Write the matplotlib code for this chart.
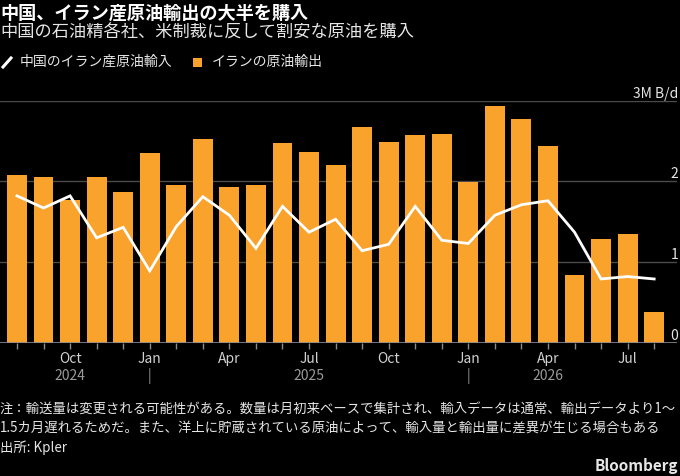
import matplotlib
matplotlib.use("Agg")
import matplotlib.pyplot as plt
from matplotlib.lines import Line2D
from matplotlib.patches import Rectangle
import matplotlib.transforms as mtransforms

# ---------------------------------------------------------------- data
months = ["2024-08", "2024-09", "2024-10", "2024-11", "2024-12",
          "2025-01", "2025-02", "2025-03", "2025-04", "2025-05", "2025-06",
          "2025-07", "2025-08", "2025-09", "2025-10", "2025-11", "2025-12",
          "2026-01", "2026-02", "2026-03", "2026-04", "2026-05", "2026-06",
          "2026-07", "2026-08"]
iran_exports = [2.08, 2.06, 1.77, 2.05, 1.87, 2.35, 1.95, 2.53, 1.93, 1.95,
                2.47, 2.37, 2.20, 2.67, 2.49, 2.58, 2.59, 1.99, 2.93, 2.77,
                2.44, 0.84, 1.29, 1.35, 0.38]
china_imports = [1.82, 1.67, 1.82, 1.30, 1.43, 0.89, 1.44, 1.81, 1.58, 1.17,
                 1.69, 1.37, 1.53, 1.14, 1.22, 1.69, 1.27, 1.23, 1.58, 1.71,
                 1.76, 1.37, 0.79, 0.82, 0.79]
month_names = {"01": "Jan", "04": "Apr", "07": "Jul", "10": "Oct"}
year_marks = {"2024-10": "2024", "2025-01": "|", "2025-07": "2025",
              "2026-01": "|", "2026-04": "2026"}
y_ticks = [0, 1, 2, 3]
y_labels = ["0", "1", "2", "3M B/d"]

# ---------------------------------------------------------------- style
plt.rcParams["font.family"] = ["Noto Sans CJK JP", "DejaVu Sans"]
BG = "#000000"
ORANGE = "#F9A22C"
GRID = "#4a4a4a"
TXT = "#e6e6e6"
GREY = "#9a9a9a"

fig = plt.figure(figsize=(6.8, 4.76), dpi=100, facecolor=BG)
ax = fig.add_axes([0.0, 1 - 342.7 / 476, 677 / 680, 242 / 476], facecolor=BG)

x = list(range(len(months)))
ax.bar(x, iran_exports, width=0.75, color=ORANGE, zorder=2)
ax.plot(x, china_imports, color="white", lw=2.0, zorder=3,
        solid_joinstyle="miter")

ax.set_xlim(-0.64, 24.86)
ax.set_ylim(0, 3)
for s in ax.spines.values():
    s.set_visible(False)
for v in y_ticks[1:]:
    ax.axhline(v, color=GRID, lw=1.0, zorder=1)
ax.axhline(0, color="#8a8a8a", lw=1.2, zorder=4)

# y labels sit above the gridlines at the right edge
ytr = mtransforms.blended_transform_factory(fig.transFigure, ax.transData)
for v, lab in zip(y_ticks, y_labels):
    ax.text(678 / 680, v, lab, transform=ytr, ha="right", va="bottom",
            fontsize=10, color=TXT)
ax.set_yticks([])

ax.set_xticks(x)
ax.set_xticklabels([month_names.get(m[5:], "") for m in months],
                   fontsize=10, color="#d0d0d0")
ax.tick_params(axis="x", length=4, width=1, color="#8a8a8a", pad=3)

xtr = mtransforms.blended_transform_factory(ax.transData, fig.transFigure)
for i, m in enumerate(months):
    if m in year_marks:
        ax.text(i, 1 - 376 / 476, year_marks[m], transform=xtr, ha="center",
                va="center", fontsize=10, color=GREY)

# ---------------------------------------------------------------- header
fig.text(0.0, 1 - 13 / 476, "中国、イラン産原油輸出の大半を購入", ha="left",
         va="center", fontsize=13.1, fontweight="bold", color="white")
fig.text(0.0, 1 - 33 / 476, "中国の石油精各社、米制裁に反して割安な原油を購入",
         ha="left", va="center", fontsize=12.4, color=TXT)

ly = 1 - 62 / 476
fig.add_artist(Line2D([3 / 680, 11 / 680], [1 - 67 / 476, 1 - 58 / 476],
                      transform=fig.transFigure, color="white", lw=2.2))
fig.text(20 / 680, ly, "中国のイラン産原油輸入", ha="left", va="center",
         fontsize=10, color=TXT)
fig.add_artist(Rectangle((193 / 680, 1 - 67 / 476), 9 / 680, 9 / 476,
                         transform=fig.transFigure, color=ORANGE, lw=0))
fig.text(212 / 680, ly, "イランの原油輸出", ha="left", va="center",
         fontsize=10, color=TXT)

# ---------------------------------------------------------------- footer
FS = 9.6
fig.text(0.0, 1 - 409 / 476,
         "注：輸送量は変更される可能性がある。数量は月初来ベースで集計され、輸入データは通常、輸出データより1～",
         ha="left", va="center", fontsize=FS, color=TXT)
fig.text(0.0, 1 - 428 / 476,
         "1.5カ月遅れるためだ。また、洋上に貯蔵されている原油によって、輸入量と輸出量に差異が生じる場合もある",
         ha="left", va="center", fontsize=FS, color=TXT)
fig.text(0.0, 1 - 448 / 476, "出所: Kpler", ha="left", va="center",
         fontsize=FS, color=TXT)
fig.text(678 / 680, 1 - 466 / 476, "Bloomberg", ha="right", va="center",
         fontsize=11, fontweight="bold", color=TXT)

fig.savefig("out.png", dpi=100, facecolor=BG)
